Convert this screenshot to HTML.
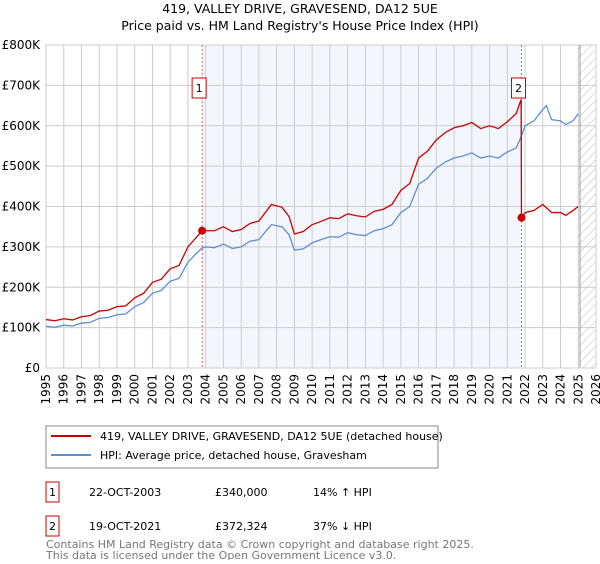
<!DOCTYPE html>
<html><head><meta charset="utf-8"><style>
body{margin:0;background:#fff;font-family:"DejaVu Sans","Liberation Sans",sans-serif;}
svg text{font-family:"DejaVu Sans","Liberation Sans",sans-serif;}
</style></head><body>
<svg id="chart" width="600" height="560" viewBox="0 0 600 560">
<defs><pattern id="hatch" width="6" height="6" patternUnits="userSpaceOnUse" patternTransform="rotate(45)"><line x1="0" y1="0" x2="0" y2="6" stroke="#bbb" stroke-width="1"/></pattern></defs>
<text x="300" y="13" font-size="12.5" text-anchor="middle">419, VALLEY DRIVE, GRAVESEND, DA12 5UE</text>
<text x="300" y="30" font-size="12.5" text-anchor="middle">Price paid vs. HM Land Registry's House Price Index (HPI)</text>
<g id="plot"></g>
<g>
<rect x="46" y="426" width="392" height="42" fill="#fff" stroke="#888"/>
<line x1="51" y1="436" x2="91" y2="436" stroke="#cc0000" stroke-width="2"/>
<text x="100" y="440" font-size="11">419, VALLEY DRIVE, GRAVESEND, DA12 5UE (detached house)</text>
<line x1="51" y1="455" x2="91" y2="455" stroke="#5b8fd1" stroke-width="2"/>
<text x="100" y="459" font-size="11">HPI: Average price, detached house, Gravesham</text>
</g>
<g font-size="11">
<rect x="46" y="482" width="13" height="20" fill="#fff" stroke="#cc0000"/><text x="52.5" y="496" text-anchor="middle">1</text>
<text x="89" y="496">22-OCT-2003</text><text x="215" y="496">£340,000</text><text x="313" y="496">14% ↑ HPI</text>
<rect x="46" y="516" width="13" height="20" fill="#fff" stroke="#cc0000"/><text x="52.5" y="530" text-anchor="middle">2</text>
<text x="89" y="530">19-OCT-2021</text><text x="215" y="530">£372,324</text><text x="313" y="530">37% ↓ HPI</text>
</g>
<text x="46" y="548" font-size="11" fill="#777">Contains HM Land Registry data © Crown copyright and database right 2025.</text>
<text x="46" y="559" font-size="11" fill="#777">This data is licensed under the Open Government Licence v3.0.</text>
</svg>
<script>
const hpiYears=[1995,1995.5,1996,1996.5,1997,1997.5,1998,1998.5,1999,1999.5,2000,2000.5,2001,2001.5,2002,2002.5,2003,2003.5,2003.8,2004,2004.5,2005,2005.5,2006,2006.5,2007,2007.7,2008.3,2008.7,2009,2009.5,2010,2010.5,2011,2011.5,2012,2012.5,2013,2013.5,2014,2014.5,2015,2015.5,2016,2016.5,2017,2017.5,2018,2018.5,2019,2019.5,2020,2020.5,2021,2021.5,2021.8,2022,2022.5,2023,2023.2,2023.5,2024,2024.3,2024.7,2025];
const hpiValues=[103,101,106,104,111,113,123,125,132,134,152,162,185,192,215,222,262,285,297,300,298,307,296,300,314,318,355,350,330,292,295,310,318,325,324,335,330,328,340,345,355,385,400,455,470,495,510,520,525,533,520,525,520,535,545,575,600,612,640,650,615,612,603,612,630];
const priceYears=[1995,1995.5,1996,1996.5,1997,1997.5,1998,1998.5,1999,1999.5,2000,2000.5,2001,2001.5,2002,2002.5,2003,2003.5,2003.8,2004,2004.5,2005,2005.5,2006,2006.5,2007,2007.7,2008.3,2008.7,2009,2009.5,2010,2010.5,2011,2011.5,2012,2012.5,2013,2013.5,2014,2014.5,2015,2015.5,2016,2016.5,2017,2017.5,2018,2018.5,2019,2019.5,2020,2020.5,2021,2021.5,2021.78,2021.8,2022,2022.5,2023,2023.5,2024,2024.3,2024.7,2025];
const priceValues=[120,117,122,119,127,130,141,143,152,154,174,185,212,220,246,254,300,325,340,340,340,350,338,343,358,364,405,398,375,332,338,355,363,372,370,382,377,374,388,393,405,440,457,520,537,565,583,595,600,608,593,600,593,610,630,665,372,385,390,405,385,385,378,390,400];
const saleYears=[2003.8,2021.8];
const saleValues=[340,372.3];
const saleLabels=["1","2"];
const yTicks=[0,100,200,300,400,500,600,700,800];
const yTickLabels=["£0","£100K","£200K","£300K","£400K","£500K","£600K","£700K","£800K"];
const xTicks=[1995,1996,1997,1998,1999,2000,2001,2002,2003,2004,2005,2006,2007,2008,2009,2010,2011,2012,2013,2014,2015,2016,2017,2018,2019,2020,2021,2022,2023,2024,2025,2026];

const L=46,R=596,T=45,B=368;
const xs=y=>L+(y-1995)/(2026-1995)*(R-L);
const ys=v=>B-v/800*(B-T);
const NS="http://www.w3.org/2000/svg";
const g=document.getElementById('plot');
function mk(tag,attrs){const e=document.createElementNS(NS,tag);for(const k in attrs)e.setAttribute(k,attrs[k]);g.appendChild(e);return e;}
let e;
e=mk('rect',{x:xs(2003.8),y:T,width:xs(2021.8)-xs(2003.8),height:B-T,fill:'#eef3fc',opacity:0.7});


e=mk('rect',{x:xs(2025),y:T,width:R-xs(2025),height:B-T,fill:'url(#hatch)'});


xTicks.forEach(t=>{
 e=mk('line',{x1:xs(t),x2:xs(t),y1:T,y2:B,stroke:'#ccc','stroke-width':1});
 
 
 e=mk('text',{x:0,y:0,'font-size':12,'text-anchor':'end',transform:`translate(${xs(t)+4},${B+6}) rotate(-90)`});
 e.textContent=t;
 
 
});
yTicks.forEach((t,i)=>{
 e=mk('line',{x1:L,x2:R,y1:ys(t),y2:ys(t),stroke:'#ccc','stroke-width':1});
 
 
 e=mk('text',{x:L-6,y:ys(t)+4,'font-size':12,'text-anchor':'end'});
 e.textContent=yTickLabels[i];
 
 
});
e=mk('line',{x1:xs(2025.1),x2:xs(2025.1),y1:T,y2:B,stroke:'#999','stroke-width':1});


e=mk('rect',{x:L,y:T,width:R-L,height:B-T,fill:'none',stroke:'#ccc'});


saleYears.forEach((s,i)=>{
 e=mk('line',{x1:xs(s),x2:xs(s),y1:T,y2:B,stroke:'#e06060','stroke-width':1,'stroke-dasharray':'2,2'});
 
 
});
e=mk('polyline',{points:hpiYears.map((y,i)=>xs(y)+','+ys(hpiValues[i])).join(' '),fill:'none',stroke:'#5b8fd1','stroke-width':1.3});


e=mk('polyline',{points:priceYears.map((y,i)=>xs(y)+','+ys(priceValues[i])).join(' '),fill:'none',stroke:'#cc0000','stroke-width':1.3});


saleYears.forEach((s,i)=>{
 e=mk('circle',{cx:xs(s),cy:ys(saleValues[i]),r:4,fill:'#cc0000'});
 
 
 e=mk('rect',{x:xs(s)-10,y:78,width:14,height:20,fill:'#fff',stroke:'#cc0000'});
 
 
 e=mk('text',{x:xs(s)-3,y:92,'font-size':11,'text-anchor':'middle'});
 e.textContent=saleLabels[i];
 
 
});
</script>
</body></html>
